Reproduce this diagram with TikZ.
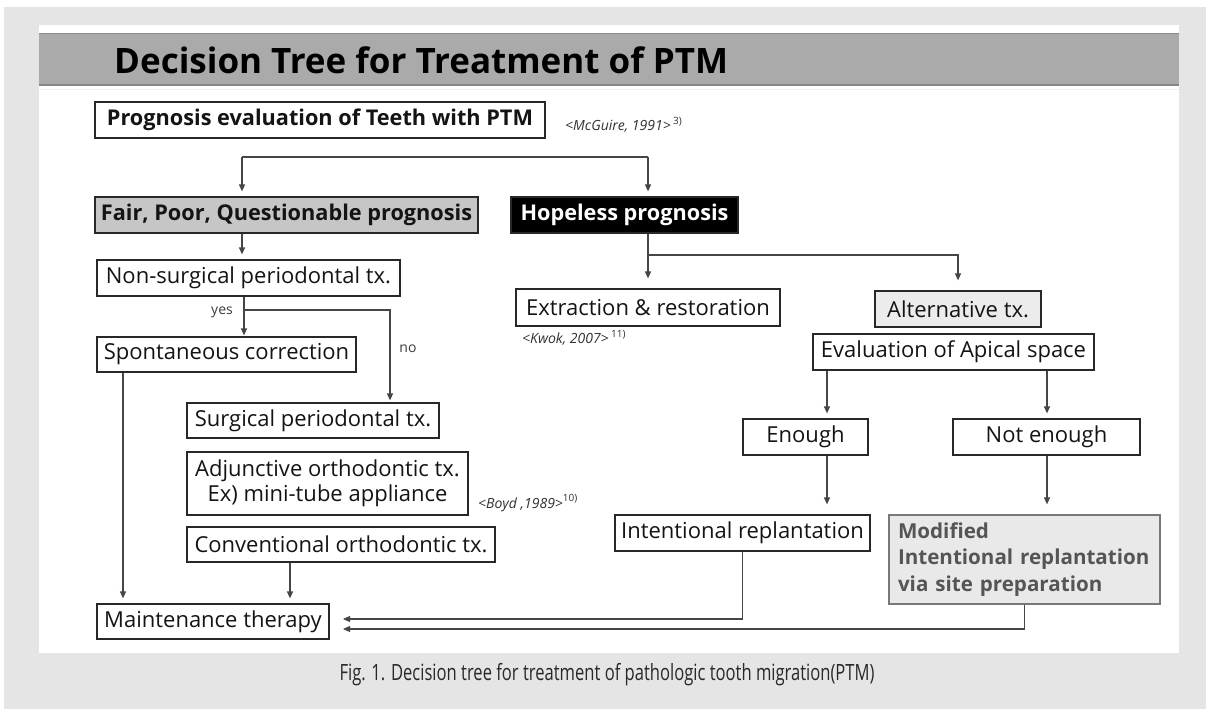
\documentclass[tikz,border=0pt]{standalone}
\usepackage{fontspec}
\setmainfont{Open Sans}
\newfontfamily\capfont[FakeStretch=0.74]{Open Sans}
\usetikzlibrary{arrows.meta}
\usetikzlibrary{calc}

\begin{document}
\begin{tikzpicture}[x=1pt,y=1pt,yscale=-1,
    box/.style={draw={rgb, 255:red, 40; green, 40; blue, 40}, line width=1.2pt, inner sep=0pt,
        text={rgb, 255:red, 20; green, 20; blue, 20}, font=\fontsize{22}{26}\selectfont},
    boldbox/.style={box, font=\bfseries\fontsize{21.7}{26}\selectfont},
    conn/.style={draw={rgb, 255:red, 70; green, 70; blue, 70}, line width=1.2pt},
    arr/.style={conn, -{Triangle[length=7pt,width=6pt]}, shorten >=5pt},
    cite/.style={anchor=west, inner sep=0pt, text={rgb, 255:red, 50; green, 50; blue, 50},
        font=\itshape\fontsize{14}{16}\selectfont},
    lbl/.style={inner sep=0pt, text={rgb, 255:red, 60; green, 60; blue, 60}, font=\fontsize{14}{16}\selectfont}]
    \useasboundingbox (0,0) rectangle (1206,709);

    %Shape: Rectangle [background]
    \fill [fill={rgb, 255:red, 229; green, 229; blue, 229}] (4,7) rectangle (1206,709);
    %Shape: Rectangle [panel]
    \fill [white] (39,25) rectangle (1179,653);
    %Shape: Rectangle [header band]
    \fill [fill={rgb, 255:red, 170; green, 170; blue, 170}] (39,33) rectangle (1179,85);
    \draw [draw={rgb, 255:red, 140; green, 140; blue, 140}, line width=1.5pt] (39,33.5) -- (1179,33.5);
    \draw [draw={rgb, 255:red, 135; green, 135; blue, 135}, line width=1.5pt] (39,85) -- (1179,85);
    \draw [draw={rgb, 255:red, 240; green, 240; blue, 240}, line width=1pt] (39,89) -- (1179,89);

    % Text Node
    \node (title) [anchor=west, inner sep=0pt, font=\bfseries\fontsize{35}{40}\selectfont] at (114,60) {Decision Tree for Treatment of PTM};

    % left branch
    \node (prog) [boldbox, minimum width=450, minimum height=36] at (320,120) {Prognosis evaluation of Teeth with PTM};
    \node (mcguire) [cite] at (565,125) {<McGuire, 1991>\,\raisebox{0.45em}{\fontsize{10}{11}\selectfont\upshape 3)}};
    \node (fair) [boldbox, fill={rgb, 255:red, 198; green, 198; blue, 198}, minimum width=383, minimum height=36] at (286.5,215) {Fair, Poor, Questionable prognosis};
    \node (nonsurg) [box, minimum width=303, minimum height=36] at (248.5,278) {Non-surgical periodontal tx.};
    \node (spont) [box, minimum width=259, minimum height=35] at (226.5,354.5) {Spontaneous correction};
    \node (surg) [box, minimum width=252, minimum height=35] at (313,420.5) {Surgical periodontal tx.};
    \node (adj) [box, align=center, font=\fontsize{22}{25}\selectfont, minimum width=281, minimum height=63] at (327.5,483.5) {Adjunctive orthodontic tx.\\Ex) mini-tube appliance};
    \node (boyd) [cite] at (478,503) {<Boyd ,1989>\raisebox{0.45em}{\fontsize{10}{11}\selectfont\upshape 10)}};
    \node (conv) [box, minimum width=308, minimum height=35] at (341,544.5) {Conventional orthodontic tx.};
    \node (maint) [box, minimum width=232, minimum height=35] at (213,621.5) {Maintenance therapy};

    % right branch
    \node (hope) [boldbox, fill=black, text=white, minimum width=227, minimum height=36] at (624.5,215) {Hopeless prognosis};
    \node (extr) [box, minimum width=264, minimum height=37] at (648,307.5) {Extraction \& restoration};
    \node (kwok) [cite] at (522,338) {<Kwok, 2007>\,\raisebox{0.45em}{\fontsize{10}{11}\selectfont\upshape 11)}};
    \node (alt) [box, fill={rgb, 255:red, 236; green, 236; blue, 236}, minimum width=166, minimum height=36] at (958,309) {Alternative tx.};
    \node (evalap) [box, minimum width=281, minimum height=36] at (953.5,352) {Evaluation of Apical space};
    \node (enough) [box, minimum width=125, minimum height=36] at (805.5,437) {Enough};
    \node (noten) [box, minimum width=187, minimum height=36] at (1046.5,437) {Not enough};
    \node (intrep) [box, minimum width=255, minimum height=36] at (742.5,533) {Intentional replantation};
    \node (modif) [box, fill={rgb, 255:red, 233; green, 233; blue, 233}, draw={rgb, 255:red, 120; green, 120; blue, 120},
        text={rgb, 255:red, 85; green, 85; blue, 85}, font=\bfseries\fontsize{20.6}{26.5}\selectfont,
        align=left, text width=253, inner xsep=9pt, minimum height=89] at (1024.5,559.5) {Modified\\Intentional replantation\\via site preparation};

    % Connectors
    \coordinate (splitL) at (242,157);
    \coordinate (splitR) at (648,157);
    \draw [conn] (splitL) -- (splitR);
    \draw [arr] (splitL) -- (splitL |- fair.north);
    \draw [arr] (splitR) -- (splitR |- hope.north);
    \draw [arr] (fair.south -| splitL) -- (nonsurg.north -| splitL);

    \coordinate (yesno) at (244,310);
    \coordinate (noturn) at (390,310);
    \draw [arr, shorten >=1pt] (nonsurg.south -| yesno) -- (spont.north -| yesno);
    \draw [arr, shorten >=2pt] (yesno) -- (noturn) -- (noturn |- surg.north);
    \node (yes) [lbl] at (222,312) {yes};
    \node (no) [lbl] at (408,349) {no};

    \coordinate (lanex) at (123,380);
    \coordinate (convx) at (290,580);
    \draw [arr] (spont.south -| lanex) -- (maint.north -| lanex);
    \draw [arr] (conv.south -| convx) -- (maint.north -| convx);

    \coordinate (hopesplit) at (648,255);
    \draw [arr, shorten >=10pt] (hope.south -| extr.north) -- (extr.north);
    \draw [arr, shorten >=10pt] (hopesplit) -| (alt.north);

    \coordinate (leftx) at (827,400);
    \coordinate (rightx) at (1047,400);
    \draw [arr] (evalap.south -| leftx) -- (enough.north -| leftx);
    \draw [arr] (evalap.south -| rightx) -- (noten.north -| rightx);
    \draw [arr, shorten >=10pt] (enough.south -| leftx) -- (intrep.north -| leftx);
    \draw [arr, shorten >=10pt] (noten.south -| rightx) -- (modif.north -| rightx);

    \coordinate (retA) at (343,619);
    \coordinate (retB) at (343,629);
    \draw [arr, shorten >=0pt] (intrep.south) |- (retA);
    \draw [arr, shorten >=0pt] (modif.south) |- (retB);

    % Text Node
    \node (caption) [inner sep=0pt, text={rgb, 255:red, 40; green, 40; blue, 40}, font=\capfont\fontsize{22.4}{25}\selectfont] at (607,675) {Fig. 1. Decision tree for treatment of pathologic tooth migration(PTM)};
\end{tikzpicture}
\end{document}
